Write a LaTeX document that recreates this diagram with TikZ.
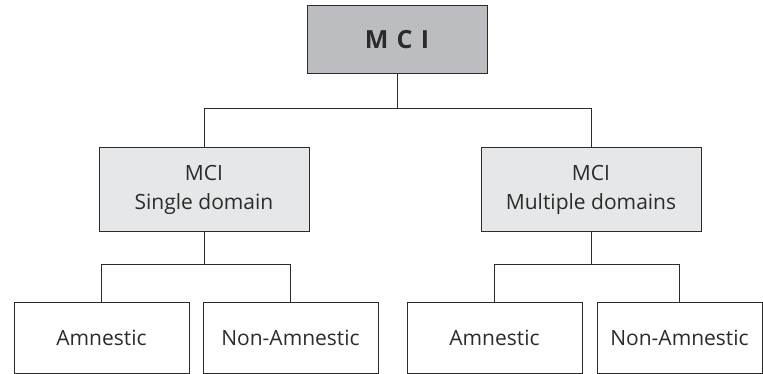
\documentclass[tikz,border=0pt]{standalone}
\usepackage{fontspec}
\setmainfont{Open Sans}
\usepackage{tikz}
\usetikzlibrary{positioning}
\definecolor{rootgray}{HTML}{BCBDC0}
\definecolor{midgray}{HTML}{E6E7E8}
\definecolor{inkgray}{HTML}{2B2B2B}

\begin{document}
\begin{tikzpicture}[x=1pt, y=-1pt]
  \tikzset{leafbox/.style={draw=inkgray, line width=1pt, text=inkgray, align=center,
             minimum width=175pt, minimum height=71pt, inner sep=0pt,
             font=\fontsize{21}{28.5}\selectfont},
           groupbox/.style={leafbox, fill=midgray, minimum width=210pt, minimum height=84pt},
           rootbox/.style={leafbox, fill=rootgray, minimum width=180pt, minimum height=68pt,
             font=\fontsize{25}{30}\selectfont\bfseries},
           link/.style={draw=inkgray, line width=0.9pt}}
  \useasboundingbox (0,0) rectangle (763,374);
  \node[rootbox] (mci) at (397,40) {M\,\,C\,\,I};
  \node[groupbox] (single) at (204,190) {MCI\\Single domain};
  \node[groupbox, minimum width=220pt] (multiple) at (591,190) {MCI\\Multiple domains};
  \node[leafbox] (singleA) at (101.5,337.5) {Amnestic};
  \node[leafbox] (singleN) at (290.5,337.5) {Non-Amnestic};
  \node[leafbox] (multipleA) at (494.5,337.5) {Amnestic};
  \node[leafbox, minimum width=165pt] (multipleN) at (679.5,337.5) {Non-Amnestic};
  % connectors
  \draw[link] (mci.south) -- ++(0,34) coordinate (topsplit);
  \draw[link] (single.north) |- (topsplit) -| (multiple.north);
  \draw[link] (single.south) -- ++(0,32) coordinate (singlesplit);
  \draw[link] (singleA.north) |- (singlesplit) -| (singleN.north);
  \draw[link] (multiple.south) -- ++(0,32) coordinate (multiplesplit);
  \draw[link] (multipleA.north) |- (multiplesplit) -| (multipleN.north);
\end{tikzpicture}
\end{document}
